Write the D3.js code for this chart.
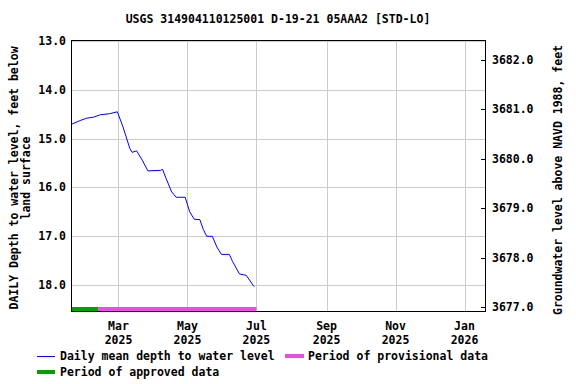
<!DOCTYPE html>
<html>
<head>
<meta charset="utf-8">
<script src="https://cdn.jsdelivr.net/npm/d3@7"></script>
<style>
  body { margin: 0; background: #fff; }
  text { font-family: "DejaVu Sans Mono", monospace; font-weight: bold; fill: #000; }
</style>
</head>
<body>
<svg id="plot" width="576" height="384"></svg>
<script>
// readings
const obsDates = ["2025-01-18", "2025-01-26", "2025-02-01", "2025-02-07", "2025-02-13", "2025-02-21",
  "2025-02-28", "2025-03-05", "2025-03-11", "2025-03-13", "2025-03-17", "2025-03-22", "2025-03-27",
  "2025-04-07", "2025-04-09", "2025-04-12", "2025-04-17", "2025-04-21", "2025-04-29", "2025-05-03",
  "2025-05-07", "2025-05-12", "2025-05-15", "2025-05-18", "2025-05-23", "2025-05-27", "2025-05-31",
  "2025-06-07", "2025-06-10", "2025-06-16", "2025-06-22", "2025-06-28", "2025-06-29"];
const depths = [14.71, 14.63, 14.58, 14.56, 14.51, 14.49,
  14.45, 14.76, 15.20, 15.28, 15.25, 15.44, 15.66,
  15.65, 15.63, 15.81, 16.09, 16.20, 16.20, 16.50,
  16.65, 16.66, 16.86, 17.00, 17.00, 17.22, 17.37,
  17.37, 17.52, 17.77, 17.80, 18.00, 18.03];

const approvedPeriod = ["2025-01-18", "2025-02-11"];
const provisionalPeriod = ["2025-02-11", "2025-07-01"];

const depthTicks = [13, 14, 15, 16, 17, 18];
const elevTicks = [3677, 3678, 3679, 3680, 3681, 3682];
const monthTicks = ["2025-03-01", "2025-05-01", "2025-07-01", "2025-09-01", "2025-11-01", "2026-01-01"];

const title = "USGS 314904110125001 D-19-21 05AAA2 [STD-LO]";
const leftTitle = ["DAILY Depth to water level, feet below", "land surface"];
const rightTitle = "Groundwater level above NAVD 1988, feet";

const parse = d3.timeParse("%Y-%m-%d");
const data = obsDates.map((d, i) => ({ date: parse(d), depth: depths[i] }));

const svg = d3.select("#plot");
const pL = 71, pR = 486, pT = 40, pB = 312;

const x = d3.scaleTime()
  .domain([parse("2025-01-18"), parse("2026-01-20")])
  .range([pL, pR]);
const y = d3.scaleLinear().domain([12.98, 18.55]).range([pT, pB]);
const y2 = d3.scaleLinear().domain([3682.4, 3676.9]).range([pT, pB]);

const px = v => Math.round(v) + 0.5;

// grid
const grid = svg.append("g").attr("stroke", "#cccccc").attr("stroke-width", 1).attr("shape-rendering", "crispEdges");
depthTicks.forEach(t => {
  grid.append("line").attr("x1", pL).attr("x2", pR).attr("y1", px(y(t))).attr("y2", px(y(t)));
});
monthTicks.forEach(t => {
  const xx = px(x(parse(t)));
  grid.append("line").attr("x1", xx).attr("x2", xx).attr("y1", pT).attr("y2", pB);
});

// approval bars
const bars = [[approvedPeriod, "#00a000"], [provisionalPeriod, "#e84ee0"]];
bars.forEach(([p, c]) => {
  svg.append("rect")
    .attr("x", x(parse(p[0])))
    .attr("width", x(parse(p[1])) - x(parse(p[0])))
    .attr("y", 307).attr("height", 4)
    .attr("fill", c);
});

// line
const line = d3.line().x(d => x(d.date)).y(d => y(d.depth));
svg.append("path").datum(data)
  .attr("d", line)
  .attr("fill", "none")
  .attr("stroke", "#0000ff")
  .attr("stroke-width", 1);

// frame
svg.append("rect")
  .attr("x", pL + 0.5).attr("y", pT + 0.5)
  .attr("width", pR - pL - 1).attr("height", pB - pT - 1)
  .attr("fill", "none").attr("stroke", "#000").attr("shape-rendering", "crispEdges");

// left tick labels
svg.append("g").selectAll("text").data(depthTicks).join("text")
  .attr("x", 66).attr("y", d => y(d) + 4)
  .attr("text-anchor", "end")
  .style("font-size", "11.5px")
  .text(d => d3.format(".1f")(d));

// right ticks and labels
const rg = svg.append("g");
elevTicks.forEach(t => {
  const yy = px(y2(t));
  rg.append("line").attr("x1", pR - 5).attr("x2", pR).attr("y1", yy).attr("y2", yy)
    .attr("stroke", "#000").attr("shape-rendering", "crispEdges");
  rg.append("text").attr("x", 492).attr("y", y2(t) + 4)
    .style("font-size", "11.5px")
    .text(d3.format(".1f")(t));
});

// month labels
const fmtMon = d3.timeFormat("%b"), fmtYr = d3.timeFormat("%Y");
monthTicks.forEach(t => {
  const d = parse(t);
  const g = svg.append("g").attr("text-anchor", "middle").style("font-size", "11.5px");
  g.append("text").attr("x", x(d)).attr("y", 330).text(fmtMon(d));
  g.append("text").attr("x", x(d)).attr("y", 344).text(fmtYr(d));
});

// titles
svg.append("text").attr("x", 278).attr("y", 23).attr("text-anchor", "middle")
  .style("font-size", "11.5px").text(title);

leftTitle.forEach((s, i) => {
  svg.append("text")
    .attr("transform", `translate(${18 + i * 12},178) rotate(-90)`)
    .attr("text-anchor", "middle")
    .style("font-size", "11.5px")
    .text(s);
});
svg.append("text")
  .attr("transform", `translate(562,180) rotate(-90)`)
  .attr("text-anchor", "middle")
  .style("font-size", "11.5px")
  .text(rightTitle);

// legend
const lg = svg.append("g").style("font-size", "11.5px");
lg.append("line").attr("x1", 37).attr("x2", 55).attr("y1", 356.5).attr("y2", 356.5)
  .attr("stroke", "#0000ff").attr("stroke-width", 1);
lg.append("text").attr("x", 60).attr("y", 360).text("Daily mean depth to water level");
lg.append("rect").attr("x", 285).attr("y", 354).attr("width", 19).attr("height", 4).attr("fill", "#e84ee0");
lg.append("text").attr("x", 308).attr("y", 360).text("Period of provisional data");
lg.append("rect").attr("x", 37).attr("y", 370).attr("width", 18).attr("height", 4).attr("fill", "#00a000");
lg.append("text").attr("x", 60).attr("y", 376).text("Period of approved data");
</script>
</body>
</html>
